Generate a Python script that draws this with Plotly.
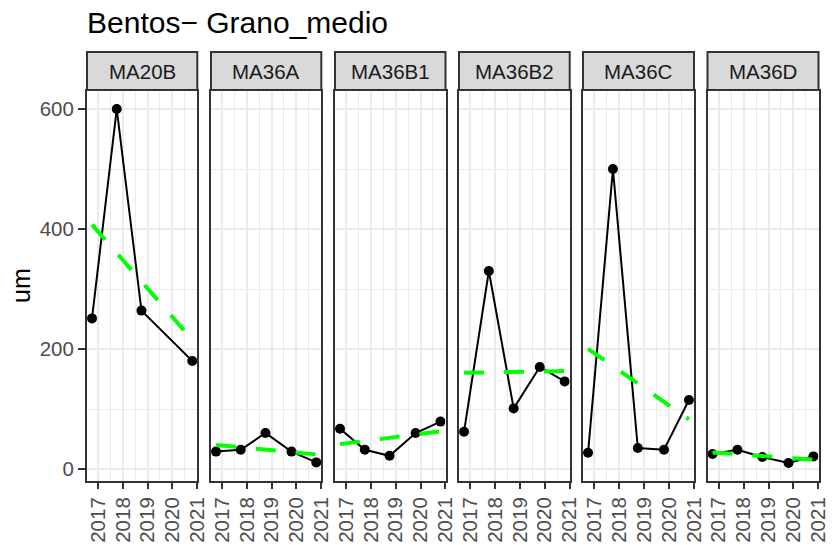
import numpy as np
import pandas as pd
import plotly.graph_objects as go

# ---- data ----
sites = ["MA20B", "MA36A", "MA36B1", "MA36B2", "MA36C", "MA36D"]
dates = ["2016-10-01", "2017-10-01", "2018-10-01", "2019-10-20", "2020-10-20"]
ma20b = [251, 600, 264, None, 180]
ma36a = [29, 32, 60, 29, 11]
ma36b1 = [67, 32, 22, 60, 79]
ma36b2 = [62, 330, 101, 170, 146]
ma36c = [27, 500, 35, 32, 115]
ma36d = [25, 32, 20, 10, 21]
series = [ma20b, ma36a, ma36b1, ma36b2, ma36c, ma36d]
y_ticks = [0, 200, 400, 600]
title = "Bentos\u2212 Grano_medio"
y_title = "um"

# ---- layout geometry (pixels) ----
W, H = 836, 545
panels_px = [(87, 197.3), (211, 321.3), (335, 445.5), (459, 569.7), (583, 694), (707.5, 818.5)]
plot_top, plot_bottom, strip_top = 91, 481, 52
FONT = "Liberation Sans, Arial, sans-serif"
TICK_SIZE = 20.5

def fx(px):
    return px / W

def fy(px):
    return 1 - px / H

fig = go.Figure()

for i, (site, vals) in enumerate(zip(sites, series)):
    n = i + 1
    xa = "x" if n == 1 else f"x{n}"
    ya = "y" if n == 1 else f"y{n}"
    d = pd.DataFrame({"date": pd.to_datetime(dates), "v": vals}).dropna()
    # linear trend (as geom_smooth(method="lm"))
    t = (d["date"] - pd.Timestamp("2016-01-01")).dt.days.values.astype(float)
    slope, icpt = np.polyfit(t, d["v"].values.astype(float), 1)
    tx = [d["date"].iloc[0], d["date"].iloc[-1]]
    ty = [icpt + slope * t[0], icpt + slope * t[-1]]
    fig.add_trace(go.Scatter(x=d["date"], y=d["v"], mode="lines+markers",
                             line=dict(color="black", width=2),
                             marker=dict(color="black", size=10),
                             xaxis=xa, yaxis=ya, showlegend=False, hoverinfo="skip"))
    fig.add_trace(go.Scatter(x=tx, y=ty, mode="lines",
                             line=dict(color="#00FF00", width=4, dash="20px,20px"),
                             xaxis=xa, yaxis=ya, showlegend=False, hoverinfo="skip"))

    x0, x1 = panels_px[i]
    xkey = "xaxis" if n == 1 else f"xaxis{n}"
    ykey = "yaxis" if n == 1 else f"yaxis{n}"
    fig.layout[xkey] = dict(
        domain=[fx(x0), fx(x1)], anchor=ya, type="date", automargin=False,
        range=["2016-07-19", "2021-01-02"],
        tick0="2017-01-01", dtick="M12", tickformat="%Y", tickangle=-90,
        ticks="outside", ticklen=6, tickwidth=2, tickcolor="#333333",
        tickfont=dict(family=FONT, size=TICK_SIZE, color="#4D4D4D"),
        showgrid=True, gridcolor="#EBEBEB", gridwidth=2.2,
        minor=dict(dtick="M6", tick0="2017-07-01", showgrid=True, gridcolor="#EBEBEB", gridwidth=1.1, ticks=""),
        showline=True, mirror=True, linecolor="#333333", linewidth=2,
        zeroline=False, fixedrange=True,
    )
    fig.layout[ykey] = dict(
        domain=[fy(plot_bottom), fy(plot_top)], anchor=xa, automargin=False,
        range=[-20, 630], tickvals=y_ticks,
        showticklabels=(n == 1),
        ticks="outside" if n == 1 else "", ticklen=7, tickwidth=2, tickcolor="#333333",
        tickfont=dict(family=FONT, size=TICK_SIZE, color="#4D4D4D"),
        showgrid=True, gridcolor="#EBEBEB", gridwidth=2.2,
        minor=dict(dtick=100, showgrid=True, gridcolor="#EBEBEB", gridwidth=1.1, ticks=""),
        showline=True, mirror=True, linecolor="#333333", linewidth=2,
        zeroline=False, fixedrange=True,
    )
    # strip
    fig.add_shape(type="rect", xref="paper", yref="paper",
                  x0=fx(x0), x1=fx(x1), y0=fy(plot_top - 1), y1=fy(strip_top),
                  fillcolor="#D9D9D9", line=dict(color="#333333", width=2), layer="above")
    fig.add_annotation(xref="paper", yref="paper", x=fx((x0 + x1) / 2),
                       y=fy((strip_top + plot_top) / 2), text=site, showarrow=False,
                       xanchor="center", yanchor="middle",
                       font=dict(family=FONT, size=TICK_SIZE, color="#1A1A1A"))

fig.add_annotation(xref="paper", yref="paper", x=fx(85), y=fy(22), text=title,
                   showarrow=False, xanchor="left", yanchor="middle",
                   font=dict(family=FONT, size=30, color="black"))
fig.add_annotation(xref="paper", yref="paper", x=fx(21), y=fy((plot_top + plot_bottom) / 2),
                   text=y_title, showarrow=False, textangle=-90,
                   xanchor="center", yanchor="middle",
                   font=dict(family=FONT, size=25, color="black"))

fig.update_layout(width=W, height=H, margin=dict(l=0, r=0, t=0, b=0, autoexpand=False),
                  autosize=False, paper_bgcolor="white", plot_bgcolor="white", showlegend=False)
fig.write_html("out.html", config={"displayModeBar": False, "responsive": False},
               post_script="document.body.style.margin='0';document.documentElement.style.overflow='hidden';document.body.style.overflow='hidden';")
